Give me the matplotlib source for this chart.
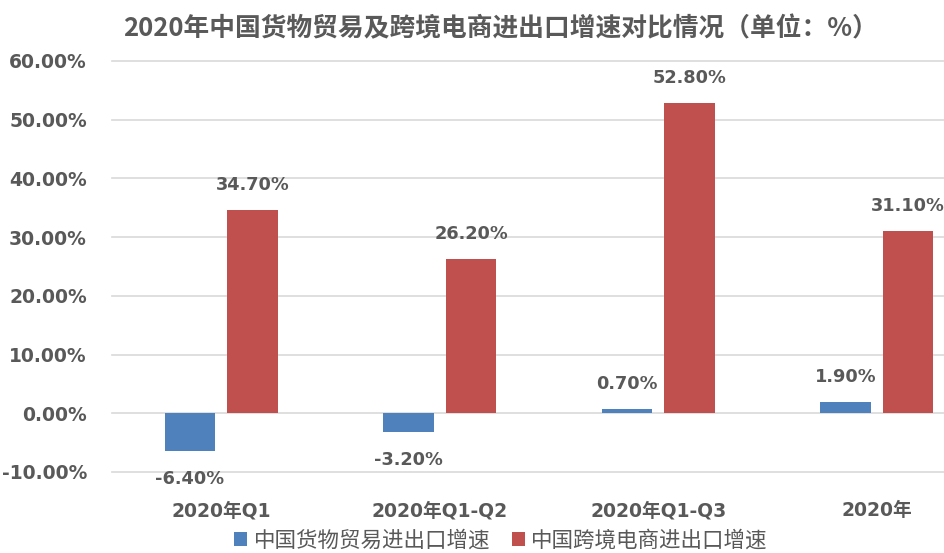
import matplotlib.pyplot as plt
import numpy as np

plt.rcParams['font.family'] = ['DejaVu Sans', 'Noto Sans CJK SC']

categories = ['2020年Q1', '2020年Q1-Q2', '2020年Q1-Q3', '2020年']
trade = [-6.4, -3.2, 0.7, 1.9]
ecom = [34.7, 26.2, 52.8, 31.1]
series_names = ['中国货物贸易进出口增速', '中国跨境电商进出口增速']
yticks = [-10, 0, 10, 20, 30, 40, 50, 60]

blue = '#4F81BD'
red = '#C0504D'
grey = '#595959'

fig = plt.figure(figsize=(9.45, 5.53), dpi=100)
ax = fig.add_axes([0.1185, 0.1465, 0.925, 0.7432])

x = np.arange(len(categories))
w = 0.23
off = 0.143
b1 = ax.bar(x - off, trade, w, color=blue, label=series_names[0], zorder=3)
b2 = ax.bar(x + off, ecom, w, color=red, label=series_names[1], zorder=3)

for bars in (b1, b2):
    for rect in bars:
        v = rect.get_height()
        cx = rect.get_x() + rect.get_width() / 2
        dy = 18 if v >= 0 else -20
        ax.annotate(f'{v:.2f}%', (cx, v), xytext=(0, dy), textcoords='offset points',
                    ha='center', va='center', fontsize=12.8, fontweight='bold', color=grey)

ax.set_xlim(-0.5, len(categories) - 0.5)
ax.set_ylim(-10, 60)
ax.set_yticks(yticks)
ax.set_yticklabels([f'{t:.2f}%' for t in yticks])
ax.set_xticks(x)
ax.set_xticklabels(categories)
ax.grid(axis='y', color='#D9D9D9', linewidth=1.2, zorder=0)
for gl in ax.get_ygridlines():
    gl.set_clip_on(False)
for s in ax.spines.values():
    s.set_visible(False)
ax.tick_params(axis='both', length=0, colors=grey, labelsize=13.5)
ax.tick_params(axis='x', pad=21)
ax.tick_params(axis='y', pad=18)
for lab in ax.get_xticklabels() + ax.get_yticklabels():
    lab.set_fontweight('bold')

fig.text(0.53, 0.948, '2020年中国货物贸易及跨境电商进出口增速对比情况（单位：%）',
         ha='center', va='center', fontsize=18.5, fontweight='bold', color=grey,
         family=['Noto Sans CJK SC', 'DejaVu Sans'])

leg = fig.legend(loc='center', bbox_to_anchor=(0.53, 0.022), ncol=2, frameon=False,
                 handlelength=0.6, handleheight=0.6, handletextpad=0.3,
                 columnspacing=1.0, prop={'family': ['Noto Sans CJK SC'], 'size': 15.5})
for t in leg.get_texts():
    t.set_color(grey)

fig.savefig('out.png', dpi=100)
plt.close('all')
